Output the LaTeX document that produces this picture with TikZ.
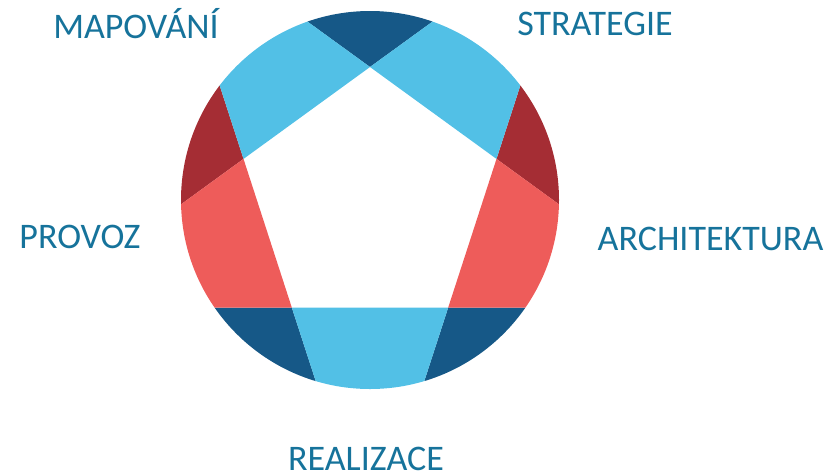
\documentclass[tikz,border=0pt]{standalone}
\usepackage{fontspec}
\setmainfont{Carlito}
\usetikzlibrary{calc}
\definecolor{lb}{RGB}{82,192,230}
\definecolor{db}{RGB}{22,88,135}
\definecolor{dr}{RGB}{165,45,52}
\definecolor{lr}{RGB}{238,92,90}
\definecolor{txt}{RGB}{22,115,155}
\begin{document}
\begin{tikzpicture}[x=1pt,y=1pt,
  lab/.style={text=txt, font=\fontsize{36}{40}\selectfont, inner sep=0pt, anchor=base}]
\useasboundingbox (0,0) rectangle (829,-475);
\coordinate (O) at (370,-200);
\coordinate (P0) at ($(O)+(90:133pt)$);
\coordinate (P1) at ($(O)+(162:133pt)$);
\coordinate (P2) at ($(O)+(234:133pt)$);
\coordinate (P3) at ($(O)+(306:133pt)$);
\coordinate (P4) at ($(O)+(18:133pt)$);
\begin{scope}
\clip (O) circle (189pt);
% vertex wedges
\fill[db] (P0) -- ($(P0)!-600pt!(P4)$) -- ($(P0)!-600pt!(P1)$) -- cycle;
\fill[dr] (P1) -- ($(P1)!-600pt!(P0)$) -- ($(P1)!-600pt!(P2)$) -- cycle;
\fill[db] (P2) -- ($(P2)!-600pt!(P1)$) -- ($(P2)!-600pt!(P3)$) -- cycle;
\fill[db] (P3) -- ($(P3)!-600pt!(P2)$) -- ($(P3)!-600pt!(P4)$) -- cycle;
\fill[dr] (P4) -- ($(P4)!-600pt!(P3)$) -- ($(P4)!-600pt!(P0)$) -- cycle;
% edge bands
\fill[lb] (P0) -- (P1) -- ($(P1)!-600pt!(P2)$) -- ($(P0)!-600pt!(P4)$) -- cycle;
\fill[lr] (P1) -- (P2) -- ($(P2)!-600pt!(P3)$) -- ($(P1)!-600pt!(P0)$) -- cycle;
\fill[lb] (P2) -- (P3) -- ($(P3)!-600pt!(P4)$) -- ($(P2)!-600pt!(P1)$) -- cycle;
\fill[lr] (P3) -- (P4) -- ($(P4)!-600pt!(P0)$) -- ($(P3)!-600pt!(P2)$) -- cycle;
\fill[lb] (P4) -- (P0) -- ($(P0)!-600pt!(P1)$) -- ($(P4)!-600pt!(P3)$) -- cycle;
\end{scope}
\node[lab] (map) at (136,-38) {MAPOVÁNÍ};
\node[lab] (str) at (595,-35) {STRATEGIE};
\node[lab] (pro) at (80,-248) {PROVOZ};
\node[lab] (arc) at (710.5,-250) {ARCHITEKTURA};
\node[lab] (rea) at (366,-470) {REALIZACE};
\end{tikzpicture}
\end{document}
